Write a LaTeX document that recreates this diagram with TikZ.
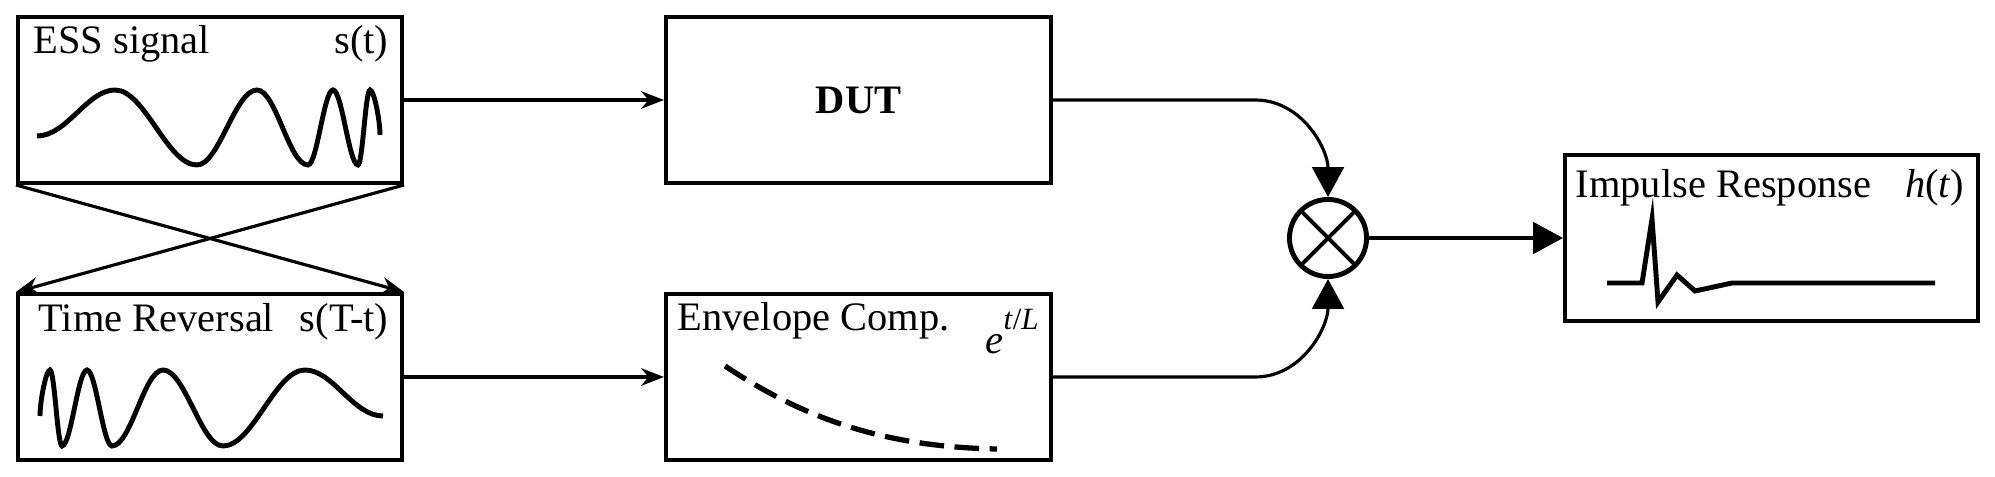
\documentclass[tikz,border=0pt]{standalone}
\usepackage{fontspec}
\setmainfont{Liberation Serif}
\usetikzlibrary{arrows.meta}

\tikzset{
  block/.style={draw, line width=1.1pt, minimum width=3.84cm, minimum height=1.66cm,
    font=\fontsize{11.5}{13.8}\selectfont},
  lbl/.style={inner sep=0pt, font=\fontsize{11.5}{13.8}\selectfont},
  sig/.style={line width=1.4pt},
  thinarrow/.style={line width=0.9pt, -{Stealth[length=6.5pt,width=5pt]}},
  bigarrow/.style={line width=0.9pt, -{Triangle[length=8.5pt,width=9pt]}},
  mixer/.style={draw, circle, line width=1.4pt, minimum size=0.77cm, inner sep=0pt,
    path picture={\draw[line width=1.1pt]
      (path picture bounding box.north west) -- (path picture bounding box.south east)
      (path picture bounding box.north east) -- (path picture bounding box.south west);}}
}

\begin{document}
\begin{tikzpicture}[x=0.01cm,y=-0.01cm]
\useasboundingbox (0,0) rectangle (1995,477);
% blocks
\node[block] (ess) at (210,100) {};
\node[block] (rev) at (210,377) {};
\node[block, minimum width=3.85cm] (dut) at (858.5,100) {\bfseries DUT};
\node[block, minimum width=3.85cm] (env) at (858.5,377) {};
\node[mixer] (mult) at (1328,238) {};
\node[block, minimum width=4.13cm] (imp) at (1771.5,238) {};
% labels
\node[lbl, anchor=base west] (esslabel) at (33,54) {ESS signal};
\node[lbl, anchor=base east] (essfun) at (389,54) {s(t)};
\node[lbl, anchor=base west] (revlabel) at (38,332) {Time Reversal};
\node[lbl, anchor=base east] (revfun) at (389,332) {s(T-t)};
\node[lbl, anchor=base west] (envlabel) at (677,331) {Envelope Comp.};
\node[lbl, anchor=base west] (envfun) at (985,354)
  {\textit{e}\raisebox{7pt}{\fontsize{8.8}{10}\selectfont\textit{t}/\textit{L}}};
\node[lbl, anchor=base west] (implabel) at (1575,198) {Impulse Response};
\node[lbl, anchor=base east] (impfun) at (1965,198) {\textit{h}(\textit{t})};
% signals
\draw[sig] (37,136) .. controls +(30,0) and +(-28,0) .. (115,90)
  .. controls +(30,0) and +(-30,0) .. (197,165)
  .. controls +(22,0) and +(-22,0) .. (257,90)
  .. controls +(19,0) and +(-19,0) .. (308,165)
  .. controls +(9,0) and +(-9,0) .. (333,90)
  .. controls +(9,0) and +(-9,0) .. (358,165)
  .. controls +(4.5,0) and +(-4.5,0) .. (370,90)
  .. controls +(4,0) and +(0,-15) .. (380,135);
\draw[sig] (40,416) .. controls +(0,-15) and +(-4,0) .. (50,370)
  .. controls +(4.5,0) and +(-4.5,0) .. (62,446)
  .. controls +(9,0) and +(-9,0) .. (87,370)
  .. controls +(9,0) and +(-9,0) .. (112,446)
  .. controls +(19,0) and +(-19,0) .. (163,370)
  .. controls +(22,0) and +(-22,0) .. (223,446)
  .. controls +(30,0) and +(-30,0) .. (305,370)
  .. controls +(28,0) and +(-30,0) .. (383,416);
\draw[sig, line width=1.5pt, dash pattern=on 7pt off 3pt]
  (725,366) .. controls (800,416) and (880,447) .. (997,449);
\draw[sig] (1607,283) -- (1642,283) -- (1652,219) -- (1658,302) -- (1677,275)
  -- (1695,291) -- (1732,283) -- (1935,283);
% connections
\coordinate (dutbend) at (1255,100);
\coordinate (envbend) at (1255,377);
\draw[thinarrow] (ess.east) -- (dut.west);
\draw[thinarrow] (rev.east) -- (env.west);
\draw[thinarrow] (ess.south west) -- (rev.north east);
\draw[thinarrow] (ess.south east) -- (rev.north west);
\draw[bigarrow] (dut.east) -- (dutbend) to[out=0,in=90] (mult.north);
\draw[bigarrow] (env.east) -- (envbend) to[out=0,in=-90] (mult.south);
\draw[bigarrow] (mult.east) -- (imp.west);
\end{tikzpicture}
\end{document}
